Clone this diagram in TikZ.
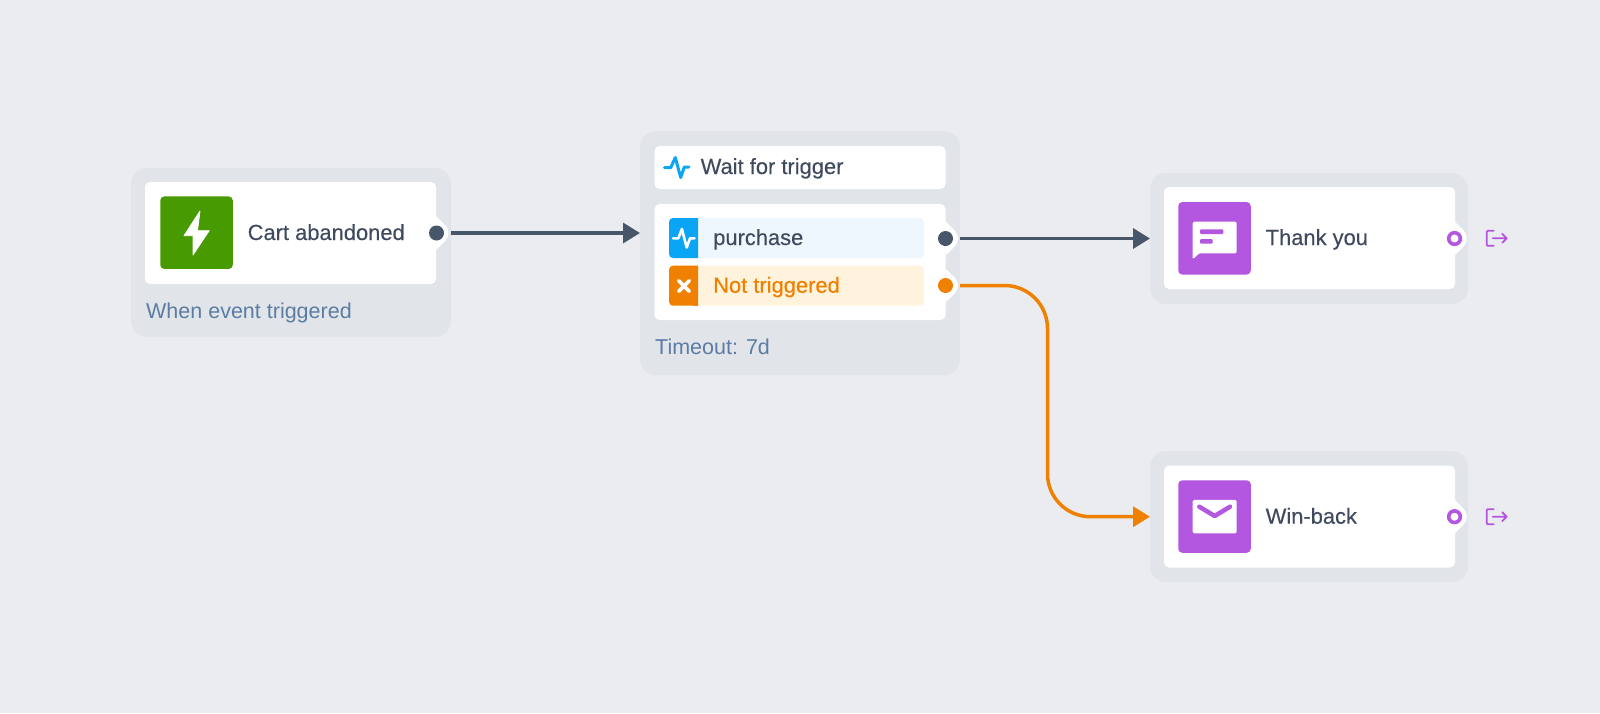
\documentclass[tikz,border=0pt]{standalone}
\usepackage{fontspec}
\setmainfont{Liberation Sans}
\newfontfamily\titlefont[FakeBold=0.25]{Liberation Sans}
\usetikzlibrary{arrows.meta}
\definecolor{canvasgray}{HTML}{EAECF0}
\definecolor{cardgray}{HTML}{E1E5EA}
\definecolor{inkdark}{HTML}{3F4A5F}
\definecolor{inkblue}{HTML}{5C7CA3}
\definecolor{wiredark}{HTML}{48566A}
\definecolor{triggerblue}{HTML}{0AA5F5}
\definecolor{rowblue}{HTML}{EEF6FE}
\definecolor{missorange}{HTML}{F08000}
\definecolor{roworange}{HTML}{FFF3DE}
\definecolor{actionpurple}{HTML}{B356E0}
\definecolor{startgreen}{HTML}{479A00}

\begin{document}
\begin{tikzpicture}[
    x=1pt, y=-1pt,
    card/.style={fill=cardgray, rounded corners=16pt, inner sep=0pt},
    panel/.style={fill=white, rounded corners=5pt, inner sep=0pt},
    iconbox/.style={rounded corners=4pt, minimum width=72.5pt, minimum height=72.5pt, inner sep=0pt},
    rowbox/.style={rounded corners=4pt, minimum width=255pt, minimum height=40pt, inner sep=0pt},
    title/.style={anchor=base west, inner sep=0pt, text=inkdark, font=\titlefont\fontsize{21.9}{26}\selectfont},
    caption/.style={anchor=base west, inner sep=0pt, text=inkblue, font=\fontsize{21.5}{25}\selectfont},
    port/.style={circle, fill=#1, minimum size=15pt, inner sep=0pt, outer sep=7pt},
    ringport/.style={circle, draw=actionpurple, line width=3.6pt, minimum size=11.6pt, inner sep=0pt},
    wire/.style={-{Triangle[length=17pt, width=20pt]}, line width=3.5pt, #1},
    notch/.pic={
        \fill[white] (0,-17) -- (9,-8) .. controls (11.5,-5.5) and (12.5,-3) .. (12.5,0)
            .. controls (12.5,3) and (11.5,5.5) .. (9,8) -- (0,17) -- cycle;
    },
    exiticon/.pic={
        \draw[actionpurple, line width=1.8pt, rounded corners=1pt, line cap=round]
            (7,-7.5) -- (0,-7.5) -- (0,7.5) -- (7,7.5);
        \draw[actionpurple, line width=1.8pt, line cap=round, line join=round]
            (6,0) -- (20,0) (15.5,-4.5) -- (20,0) -- (15.5,4.5);
    }
]

\fill[canvasgray] (0,0) rectangle (1600,713);
\useasboundingbox (0,0) rectangle (1600,713);

% Start
\node[card, minimum width=320pt, minimum height=169pt] (startcard) at (291,252.5) {};
\node[panel, minimum width=291pt, minimum height=102pt] (startpanel) at (290.5,233) {};
\pic at (436,233) {notch};
\node[iconbox, fill=startgreen] (starticon) at (196.5,232.7) {};
\fill[white, draw=white, line width=0.8pt, line join=round] (200,211) -- (184,235.7) -- (193,235.7) -- (193,255)
    -- (209.2,230.7) -- (197.5,230.7) -- cycle;
\node[title] (starttitle) at (247.5,240) {Cart abandoned};
\node[caption] (startcaption) at (146,318) {When event triggered};
\node[port=wiredark] (startport) at (436.5,233) {};

% Wait
\node[card, minimum width=320pt, minimum height=244pt] (waitcard) at (800,253) {};
\node[panel, minimum width=291pt, minimum height=43pt] (waithead) at (800,167.5) {};
\node[panel, minimum width=291pt, minimum height=116pt] (waitpanel) at (800,262) {};
\pic at (945.5,238.5) {notch};
\pic at (945.5,285.5) {notch};
\draw[triggerblue, line width=3pt, line cap=round, line join=round]
    (664.5,167.7) -- (670.7,167.7) -- (675.3,157.5) -- (680.7,177.5) -- (684.3,167) -- (688.8,167);
\node[title] (waittitle) at (700.5,174) {Wait for trigger};

% Wait rows
\node[rowbox, fill=rowblue] (hitrow) at (796.5,238) {};
\fill[triggerblue, rounded corners=4pt] (698,218) -- (669,218) -- (669,258) -- (698,258);
\fill[triggerblue] (694,218) rectangle (698,258);
\draw[white, line width=2.6pt, line cap=round, line join=round]
    (673,238.3) -- (678.3,238.3) -- (681.9,229) -- (686.7,247.5) -- (690,238.3) -- (694.5,238.3);
\node[title] (hittitle) at (713,245) {purchase};
\node[port=wiredark] (hitport) at (945.5,238.5) {};

\node[rowbox, fill=roworange] (missrow) at (796.5,285.7) {};
\fill[missorange, rounded corners=4pt] (698,265.7) -- (669,265.7) -- (669,305.7) -- (698,305.7);
\fill[missorange] (694,265.7) rectangle (698,305.7);
\draw[white, line width=3.6pt, line cap=round]
    (678.7,280.7) -- (689.3,291.3) (689.3,280.7) -- (678.7,291.3);
\node[title, text=missorange] (misstitle) at (713,292.7) {Not triggered};
\node[port=missorange] (missport) at (945.5,285.5) {};
\node[caption] (waitcaption) at (655,354) {Timeout: 7d};

% Thank you
\node[card, minimum width=318pt, minimum height=131pt] (thankcard) at (1309,238.5) {};
\node[panel, minimum width=291pt, minimum height=102pt] (thankpanel) at (1309.5,238) {};
\pic at (1454.5,238.5) {notch};
\node[iconbox, fill=actionpurple] (thankicon) at (1214.5,238.3) {};
\fill[white, rounded corners=1.5pt] (1192.7,221.7) -- (1236.7,221.7) -- (1236.7,253.3) -- (1199,253.3)
    -- (1192.7,259.5) -- cycle;
\fill[actionpurple, rounded corners=1pt] (1200,229.3) rectangle (1223.3,234);
\fill[actionpurple, rounded corners=1pt] (1200,239) rectangle (1212.7,243.7);
\node[title] (thanktitle) at (1265.5,245) {Thank you};
\node[ringport] (thankport) at (1454.5,238.5) {};
\pic at (1486.7,238.3) {exiticon};

% Win-back
\node[card, minimum width=318pt, minimum height=131pt] (backcard) at (1309,516.5) {};
\node[panel, minimum width=291pt, minimum height=102pt] (backpanel) at (1309.5,516.5) {};
\pic at (1454.5,516.7) {notch};
\node[iconbox, fill=actionpurple] (backicon) at (1214.5,516.5) {};
\node[fill=white, rounded corners=1.5pt, minimum width=44pt, minimum height=33.5pt, inner sep=0pt] (backletter) at (1214.7,516.7) {};
\draw[actionpurple, line width=4.5pt, line cap=round, line join=round]
    (1199.3,506.7) -- (1214.7,516) -- (1230,506.7);
\node[title] (backtitle) at (1265.5,523.7) {Win-back};
\node[ringport] (backport) at (1454.5,516.7) {};
\pic at (1486.7,516.7) {exiticon};

\coordinate (waitin) at (640,233);
\coordinate (thankin) at (1150,238.5);
\coordinate (backin) at (1150,516.7);
\coordinate (bend) at (1047.5,400);

\draw[wire=wiredark] (startport) -- (waitin);
\draw[wire=wiredark] (hitport) -- (thankin);
\draw[wire=missorange, rounded corners=43pt] (missport) -| (bend) |- (backin);

\end{tikzpicture}
\end{document}
